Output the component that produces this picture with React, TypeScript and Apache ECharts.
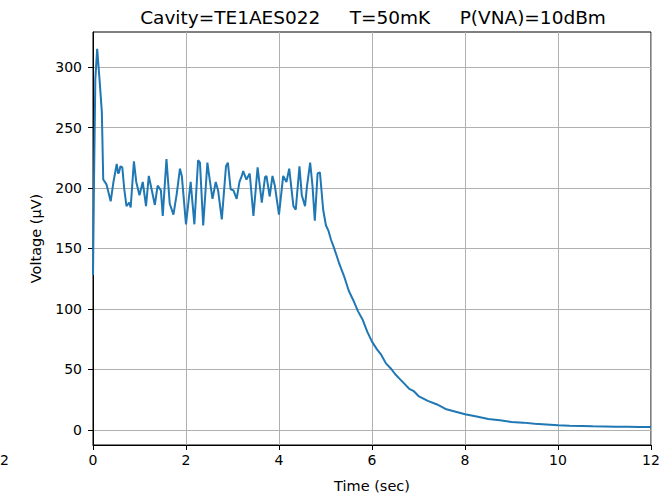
import React, { useEffect, useRef } from "react";
import * as echarts from "echarts";

const titleText = "Cavity=TE1AES022\u00a0\u00a0\u00a0\u00a0\u00a0T=50mK\u00a0\u00a0\u00a0\u00a0\u00a0P(VNA)=10dBm";
const xTicks = [0, 2, 4, 6, 8, 10, 12];
const yTicks = [0, 50, 100, 150, 200, 250, 300];

const timeSec = [
  0, 0.02, 0.05, 0.09, 0.14, 0.19, 0.22, 0.29, 0.38, 0.44, 0.51, 0.54, 0.56, 0.59, 0.63, 0.67,
  0.72, 0.78, 0.81, 0.88, 0.93, 1.0, 1.07, 1.14, 1.2, 1.26, 1.33, 1.39, 1.46, 1.5, 1.58, 1.65,
  1.73, 1.8, 1.87, 1.91, 2.0, 2.1, 2.18, 2.26, 2.3, 2.37, 2.46, 2.51, 2.57, 2.64, 2.69, 2.77,
  2.86, 2.9, 2.96, 3.02, 3.09, 3.15, 3.2, 3.23, 3.3, 3.37, 3.45, 3.54, 3.63, 3.7, 3.73, 3.8,
  3.86, 3.91, 4.0, 4.09, 4.16, 4.22, 4.31, 4.36, 4.44, 4.49, 4.56, 4.6, 4.67, 4.72, 4.77, 4.83,
  4.88, 4.95, 5.01, 5.06, 5.12, 5.17, 5.24, 5.3, 5.4, 5.5, 5.6, 5.7, 5.8, 5.9, 6.0, 6.1, 6.2,
  6.3, 6.4, 6.5, 6.6, 6.7, 6.8, 6.9, 7.0, 7.2, 7.4, 7.6, 7.8, 8.0, 8.25, 8.5, 8.75, 9.0, 9.25,
  9.5, 9.75, 10.0, 10.25, 10.5, 10.75, 11.0, 11.25, 11.5, 11.75, 12.0,
];

const voltageUV = [
  128, 200, 290, 315, 290, 263, 207, 203, 189, 205, 220, 212, 213, 218, 217, 200,
  185, 188, 184, 222, 205, 194, 205, 185, 210, 199, 186, 202, 198, 177, 224, 187,
  178, 195, 216, 210, 170, 205, 170, 223, 221, 169, 221, 207, 191, 205, 198, 174,
  218, 221, 199, 198, 191, 205, 210, 214, 207, 212, 177, 217, 188, 209, 210, 193,
  210, 202, 178, 210, 205, 216, 185, 182, 218, 194, 185, 201, 221, 202, 173, 212,
  213, 182, 169, 165, 157, 152, 144, 137, 127, 115, 107, 98, 91, 81, 73, 67, 62,
  55, 51, 46, 42, 38, 34, 32, 28, 24, 21, 17, 15, 13, 11, 9, 8, 6.5, 6,
  5, 4.5, 3.8, 3.5, 3.3, 3, 2.8, 2.6, 2.5, 2.3, 2.3,
];

export default function App() {
  const ref = useRef<HTMLDivElement>(null);
  useEffect(() => {
    if (!ref.current) return;
    const chart = echarts.init(ref.current, undefined, { renderer: "svg" });
    const font = "DejaVu Sans";
    const data = timeSec.map((t, i) => [t, voltageUV[i]]);
    chart.setOption({
      animation: false,
      backgroundColor: "#ffffff",
      title: {
        text: titleText,
        left: 368,
        top: 3,
        textAlign: "center",
        textStyle: { fontFamily: font, fontSize: 18.5, fontWeight: "normal", color: "#000" },
      },
      grid: {
        left: 93,
        right: 12,
        top: 32,
        bottom: 50,
        show: true,
        borderColor: "#000",
        borderWidth: 1,
        backgroundColor: "transparent",
      },
      xAxis: {
        type: "value",
        min: 0,
        max: 12,
        interval: 2,
        name: "Time (sec)",
        nameLocation: "middle",
        nameGap: 33,
        nameTextStyle: { fontFamily: font, fontSize: 14.5, color: "#000" },
        axisLine: { show: true, onZero: false, lineStyle: { color: "#000", width: 1 } },
        axisTick: { show: true, inside: false, length: 5, lineStyle: { color: "#000" } },
        axisLabel: {
          fontFamily: font,
          fontSize: 14,
          color: "#000",
          margin: 8,
          formatter: (v: number) => (xTicks.includes(v) ? String(v) : ""),
        },
        splitLine: { show: true, lineStyle: { color: "#b0b0b0", width: 1 } },
      },
      yAxis: {
        type: "value",
        min: -12.5,
        max: 329,
        name: "Voltage (µV)",
        nameLocation: "middle",
        nameGap: 50,
        nameTextStyle: { fontFamily: font, fontSize: 14.5, color: "#000" },
        axisLine: { show: true, onZero: false, lineStyle: { color: "#000", width: 1 } },
        axisTick: {
          show: true,
          inside: false,
          length: 5,
          customValues: yTicks,
          lineStyle: { color: "#000" },
        },
        axisLabel: {
          fontFamily: font,
          fontSize: 14,
          color: "#000",
          margin: 11,
          customValues: yTicks,
        },
        splitLine: { show: true, lineStyle: { color: "#b0b0b0", width: 1 } },
      },
      graphic: [
        {
          type: "text",
          left: 0,
          top: 453,
          style: { text: "2", fontFamily: font, fontSize: 14, fill: "#000" },
        },
      ],
      series: [
        {
          type: "line",
          data,
          showSymbol: false,
          symbol: "none",
          lineStyle: { color: "#1f77b4", width: 2 },
          itemStyle: { color: "#1f77b4" },
        },
      ],
    });
    return () => chart.dispose();
  }, []);
  return <div ref={ref} style={{ width: 663, height: 498, position: "fixed", left: 0, top: 0 }} />;
}
